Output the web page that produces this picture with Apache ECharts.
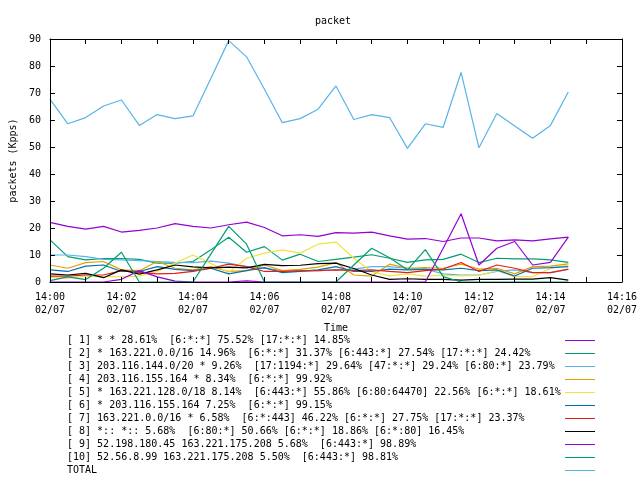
<!DOCTYPE html>
<html><head><meta charset="utf-8">
<script src="https://cdn.jsdelivr.net/npm/echarts@6/dist/echarts.min.js"></script>
<style>html,body{margin:0;padding:0;background:#fff}#c{width:640px;height:480px}</style>
</head><body><div id="c"></div>
<script>
const times = ['14:00:00','14:00:30','14:01:00','14:01:30','14:02:00','14:02:30','14:03:00','14:03:30','14:04:00','14:04:30',
  '14:05:00','14:05:30','14:06:00','14:06:30','14:07:00','14:07:30','14:08:00','14:08:30','14:09:00','14:09:30',
  '14:10:00','14:10:30','14:11:00','14:11:30','14:12:00','14:12:30','14:13:00','14:13:30','14:14:00','14:14:30'];
const dateLabel = '02/07';
const yTicks = [0,10,20,30,40,50,60,70,80,90];

const s1  = [22.1,20.6,19.6,20.6,18.5,19.1,20.0,21.6,20.6,20.0,21.2,22.2,20.2,17.1,17.5,16.9,18.3,18.1,18.5,17.1,15.9,16.1,15.0,16.3,16.3,15.2,15.6,15.2,16.0,16.6];
const s2  = [15.6,9.4,8.2,8.7,8.7,8.4,7.0,7.0,7.6,11.9,16.6,11.0,13.1,8.1,10.3,7.6,8.4,9.2,10.1,8.8,7.3,8.2,8.4,10.3,7.2,8.8,8.6,8.6,8.2,7.3];
const s3  = [10.0,10.0,9.4,8.4,8.2,7.9,7.6,7.3,7.2,7.7,7.0,5.7,5.1,4.2,4.2,4.2,4.5,4.8,5.7,5.7,5.1,4.8,3.0,2.6,2.6,3.9,4.5,3.5,3.5,4.7];
const s4  = [6.3,5.1,7.2,7.6,4.5,4.2,7.6,5.1,4.5,5.7,3.9,4.2,6.3,4.2,4.7,5.5,7.2,2.6,2.2,6.6,5.1,5.3,5.1,6.6,4.8,5.1,3.0,5.7,5.9,6.7];
const s5  = [1.7,1.4,2.2,2.0,2.0,2.2,3.9,7.0,10.0,6.9,3.5,8.8,10.7,11.9,10.7,14.0,14.8,8.8,3.8,2.3,3.0,2.2,2.5,2.3,2.5,4.2,2.0,2.0,5.0,6.3];
const s6  = [4.5,3.9,5.9,6.3,3.9,3.9,5.7,4.7,4.2,5.1,3.0,4.2,5.3,3.5,3.9,4.5,5.7,3.9,3.9,4.8,4.5,4.7,4.5,5.1,4.2,4.5,2.2,5.1,5.3,5.7];
const s7  = [2.2,2.2,2.6,2.6,4.2,3.6,3.0,3.2,3.9,5.1,6.6,5.7,3.9,3.9,4.1,4.2,4.5,4.2,4.5,3.9,3.5,4.2,4.8,7.2,3.9,6.3,5.1,3.5,3.5,4.8];
const s8  = [3.0,2.6,3.2,1.6,4.5,2.9,4.5,6.3,5.6,5.2,5.5,5.2,6.5,6.1,6.2,6.8,7.0,5.0,2.6,1.0,1.2,1.0,1.0,0.7,1.0,1.0,1.1,1.1,1.6,0.7];
const s9  = [0,0,0,0,1.0,4.2,1.9,0.3,0,0,0,0.4,0,0,0,0,0,0,0,0,0,0,12.5,25.3,6.3,12.5,15.0,6.3,7.3,16.6];
const s10 = [0.5,1.9,0.9,5.1,11.0,0,0,0,0,10.3,20.6,14.0,0,0,0,0,0,6.3,12.5,9.0,4.5,12.0,2.0,0,0,0,0,0,0,0];
const total = [67.7,58.6,60.9,65.2,67.4,58.0,62.0,60.5,61.5,75.4,89.4,83.4,71.4,59.0,60.5,64.0,72.6,60.2,62.0,60.9,49.5,58.6,57.3,77.6,49.7,62.4,57.8,53.2,58.0,70.4];

const names = [
 '[ 1] * * 28.61%  [6:*:*] 75.52% [17:*:*] 14.85%',
 '[ 2] * 163.221.0.0/16 14.96%  [6:*:*] 31.37% [6:443:*] 27.54% [17:*:*] 24.42%',
 '[ 3] 203.116.144.0/20 * 9.26%  [17:1194:*] 29.64% [47:*:*] 29.24% [6:80:*] 23.79%',
 '[ 4] 203.116.155.164 * 8.34%  [6:*:*] 99.92%',
 '[ 5] * 163.221.128.0/18 8.14%  [6:443:*] 55.86% [6:80:64470] 22.56% [6:*:*] 18.61%',
 '[ 6] * 203.116.155.164 7.25%  [6:*:*] 99.15%',
 '[ 7] 163.221.0.0/16 * 6.58%  [6:*:443] 46.22% [6:*:*] 27.75% [17:*:*] 23.37%',
 '[ 8] *:: *:: 5.68%  [6:80:*] 50.66% [6:*:*] 18.86% [6:*:80] 16.45%',
 '[ 9] 52.198.180.45 163.221.175.208 5.68%  [6:443:*] 98.89%',
 '[10] 52.56.8.99 163.221.175.208 5.50%  [6:443:*] 98.81%',
 'TOTAL'
];
const values = [s1,s2,s3,s4,s5,s6,s7,s8,s9,s10,total];
const colors = ['#9400d3','#009e73','#56b4e9','#e69f00','#f0e442','#0072b2','#e51e10','#000000','#9400d3','#009e73','#56b4e9'];

const FONT = 'DejaVu Sans Mono';
function toMin(t){ const p = t.split(':').map(Number); return p[0]*60 + p[1] + p[2]/60; }
const xMin = toMin(times[0]);
const xMax = xMin + 16;
function pad(n){ return (n<10?'0':'') + n; }

const chart = echarts.init(document.getElementById('c'), null, {renderer:'canvas'});
const axisCommon = {
  axisLine:{show:true, onZero:false, lineStyle:{color:'#000', width:1}},
  axisTick:{show:true, inside:true, length:5, lineStyle:{color:'#000', width:1}},
  splitLine:{show:false},
  z: 5
};
const option = {
  animation:false,
  backgroundColor:'#fff',
  title:{text:'packet', left:310, top:11,
    textStyle:{fontFamily:FONT, fontSize:10, fontWeight:'normal', color:'#000'}},
  grid:{left:46, right:18, top:39, bottom:198, containLabel:false},
  xAxis:[
    Object.assign({type:'value', min:xMin, max:xMax, interval:1, position:'bottom',
      name:'Time', nameLocation:'middle', nameGap:41,
      nameTextStyle:{fontFamily:FONT, fontSize:10, color:'#000'},
      axisLabel:{show:true, margin:9, fontFamily:FONT, fontSize:10, lineHeight:13, color:'#000',
        showMinLabel:true, showMaxLabel:true,
        formatter:function(v){ const m = Math.round(v); if (m % 2) return ''; return Math.floor(m/60) + ':' + pad(m%60) + '\n' + dateLabel; }}
    }, axisCommon),
    Object.assign({type:'value', min:xMin, max:xMax, interval:1, position:'top', axisLabel:{show:false}}, axisCommon)
  ],
  yAxis:[
    Object.assign({type:'value', min:yTicks[0], max:yTicks[yTicks.length-1], interval:yTicks[1]-yTicks[0], position:'left',
      name:'packets (Kpps)', nameLocation:'middle', nameGap:26,
      nameTextStyle:{fontFamily:FONT, fontSize:10, color:'#000'},
      axisLabel:{show:true, margin:9, fontFamily:FONT, fontSize:10, color:'#000'}
    }, axisCommon),
    Object.assign({type:'value', min:yTicks[0], max:yTicks[yTicks.length-1], interval:yTicks[1]-yTicks[0], position:'right', axisLabel:{show:false}}, axisCommon)
  ],
  legend:[
    {orient:'vertical', left:62, top:334, padding:0, itemGap:0, itemWidth:0, itemHeight:13,
     selectedMode:false, data:names, icon:'rect',
     itemStyle:{opacity:0}, lineStyle:{opacity:0},
     textStyle:{fontFamily:FONT, fontSize:10, color:'#000', lineHeight:13}},
    {orient:'vertical', left:565, top:334, padding:0, itemGap:0, itemWidth:30, itemHeight:13,
     selectedMode:false, data:names, icon:'path://M0,0H30V1H0Z',
     formatter:function(){ return ' '; },
     textStyle:{fontFamily:FONT, fontSize:10, lineHeight:13}}
  ],
  series: values.map(function(vals, k){
    return {
      name:names[k], type:'line', xAxisIndex:0, yAxisIndex:0,
      symbol:'none', showSymbol:false, clip:true,
      color:colors[k],
      itemStyle:{color:colors[k]},
      lineStyle:{color:colors[k], width:1.2},
      emphasis:{disabled:true},
      data: times.map(function(t,i){ return [toMin(t), vals[i]]; })
    };
  })
};
chart.setOption(option);
</script>
</body></html>
